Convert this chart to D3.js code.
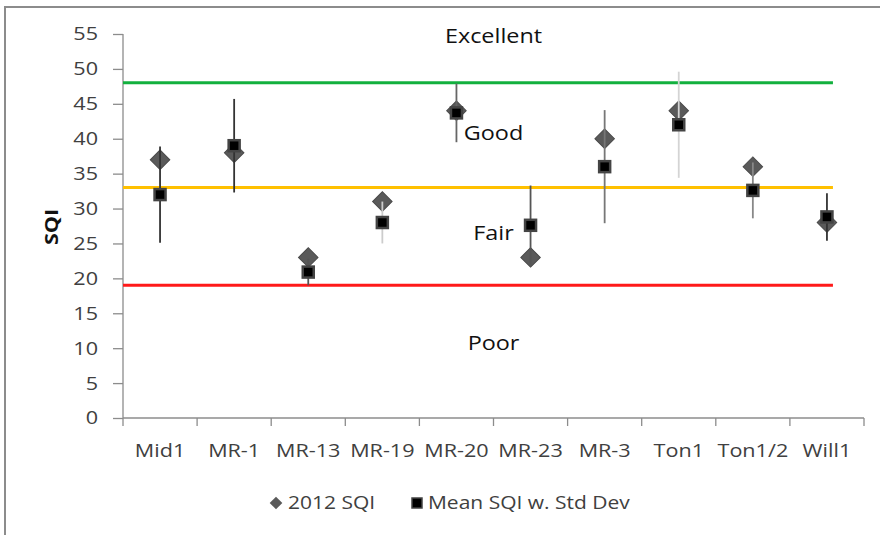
<!DOCTYPE html>
<html>
<head>
<meta charset="utf-8">
<script src="https://cdn.jsdelivr.net/npm/d3@7"></script>
<style>
  html, body { margin: 0; padding: 0; background: #fff; }
  svg { display: block; }
  text { font-family: "Open Sans", Lato, sans-serif; fill: #404040; }
</style>
</head>
<body>
<svg id="chart" width="880" height="535"></svg>
<script>
// Site names along the x axis
const sites = ["Mid1", "MR-1", "MR-13", "MR-19", "MR-20", "MR-23", "MR-3", "Ton1", "Ton1/2", "Will1"];
// 2012 SQI score per site
const sqi2012 = [37, 38, 23, 31, 44, 23, 40, 44, 36, 28];
// Mean SQI per site and its standard deviation
const meanSqi = [32, 39, 20.9, 28, 43.7, 27.6, 36, 42, 32.6, 28.8];
const stdDev = [6.9, 6.7, 1.9, 3, 4.2, 5.7, 8.1, 7.6, 4, 3.4];
// Rating thresholds and band labels
const thresholds = [
  { value: 48, color: "#12b03e" },
  { value: 33, color: "#ffc000" },
  { value: 19, color: "#ff1a1a" }
];
const bands = [
  { label: "Excellent", value: 53.7 },
  { label: "Good", value: 39.8 },
  { label: "Fair", value: 25.5 },
  { label: "Poor", value: 9.7 }
];
const yTicks = [0, 5, 10, 15, 20, 25, 30, 35, 40, 45, 50, 55];
// Error bar shade for each site
const errShade = ["#333", "#333", "#555", "#ccc", "#666", "#555", "#777", "#d4d4d4", "#888", "#333"];

// Text is drawn slightly widened, like a wide-set humanist face
const WIDE = 1.2;
function placeText(sel, px, py, rot) {
  sel.attr("transform", `translate(${px},${py})${rot ? ` rotate(${rot})` : ""} scale(${WIDE},1)`);
  return sel;
}

const svg = d3.select("#chart");

// Outer chart border (left and top edges)
svg.append("path")
  .attr("d", "M5,535 V7 H880")
  .attr("fill", "none")
  .attr("stroke", "#8c8c8c")
  .attr("stroke-width", 2);

const x = d3.scaleBand().domain(sites).range([123, 864]);
const cx = s => x(s) + x.bandwidth() / 2;
const y = d3.scaleLinear().domain([0, 55]).range([418, 34]);

// Y axis line and tick marks
const yAxis = svg.append("g").attr("transform", "translate(123,0)")
  .call(d3.axisLeft(y).tickValues(yTicks).tickSize(10).tickFormat(""));
yAxis.select(".domain").attr("stroke", "#8c8c8c").attr("stroke-width", 1.3).attr("d", `M0,${y(0)}V${y(55)}`);
yAxis.selectAll(".tick line").attr("stroke", "#8c8c8c").attr("stroke-width", 1.3);

// Y tick labels
svg.append("g").selectAll("text").data(yTicks).join("text")
  .attr("text-anchor", "end")
  .attr("dy", "0.36em")
  .attr("font-size", 18)
  .text(d => d)
  .each(function (d) { placeText(d3.select(this), 98, y(d)); });

// X axis with ticks on category boundaries
const xAxisG = svg.append("g").attr("transform", `translate(0,${y(0)})`);
xAxisG.append("line")
  .attr("x1", x.range()[0]).attr("x2", x.range()[1])
  .attr("stroke", "#8c8c8c").attr("stroke-width", 1.3);
const boundaries = sites.map(s => x(s)).concat([x.range()[1]]);
xAxisG.selectAll("line.tick").data(boundaries).join("line")
  .attr("class", "tick")
  .attr("x1", d => d).attr("x2", d => d)
  .attr("y1", 0).attr("y2", 8)
  .attr("stroke", "#8c8c8c").attr("stroke-width", 1.3);
xAxisG.selectAll("text").data(sites).join("text")
  .attr("text-anchor", "middle")
  .attr("font-size", 18)
  .text(d => d)
  .each(function (d) { placeText(d3.select(this), cx(d), 39); });

// Y axis title
placeText(svg.append("text"), 58, (y(0) + y(55)) / 2 + 1, -90)
  .attr("text-anchor", "middle")
  .attr("font-size", 18)
  .attr("font-weight", "bold")
  .style("fill", "#111")
  .text("SQI");

// Threshold lines
const lineEnd = cx(sites[sites.length - 1]) + 6;
svg.selectAll("line.threshold").data(thresholds).join("line")
  .attr("class", "threshold")
  .attr("x1", x.range()[0]).attr("x2", lineEnd)
  .attr("y1", d => y(d.value)).attr("y2", d => y(d.value))
  .attr("stroke", d => d.color).attr("stroke-width", 3);

// Band labels
svg.selectAll("text.band").data(bands).join("text")
  .attr("class", "band")
  .attr("text-anchor", "middle")
  .attr("font-size", 19.5)
  .style("fill", "#111")
  .text(d => d.label)
  .each(function (d) { placeText(d3.select(this), (cx("MR-20") + cx("MR-23")) / 2, y(d.value)); });

// Diamond marker: a square turned 45 degrees
const diamond = d3.symbol().type(d3.symbolSquare).size(190);

// 2012 SQI diamonds
svg.selectAll("path.sqi").data(sites).join("path")
  .attr("class", "sqi")
  .attr("transform", (s, i) => `translate(${cx(s)},${y(sqi2012[i])}) rotate(45)`)
  .attr("d", diamond)
  .attr("fill", "#5a5a5a")
  .attr("stroke", "#4a4a4a")
  .attr("stroke-width", 1);

// Standard deviation bars
svg.selectAll("line.err").data(sites).join("line")
  .attr("class", "err")
  .attr("x1", s => cx(s)).attr("x2", s => cx(s))
  .attr("y1", (s, i) => y(meanSqi[i] + stdDev[i]))
  .attr("y2", (s, i) => y(meanSqi[i] - stdDev[i]))
  .attr("stroke", (s, i) => errShade[i])
  .attr("stroke-width", 1.8);

// Mean SQI squares
svg.selectAll("rect.mean").data(sites).join("rect")
  .attr("class", "mean")
  .attr("x", s => cx(s) - 5.5)
  .attr("y", (s, i) => y(meanSqi[i]) - 5.5)
  .attr("width", 11).attr("height", 11)
  .attr("fill", "#000")
  .attr("stroke", "#444")
  .attr("stroke-width", 2.5);

// Legend
const legend = svg.append("g").attr("transform", "translate(0,503)");
legend.append("path")
  .attr("transform", "translate(276,0) rotate(45)")
  .attr("d", d3.symbol().type(d3.symbolSquare).size(80))
  .attr("fill", "#5a5a5a");
placeText(legend.append("text"), 288, 6).attr("font-size", 17.5).text("2012 SQI");
legend.append("rect")
  .attr("x", 412).attr("y", -5).attr("width", 10).attr("height", 10)
  .attr("fill", "#000").attr("stroke", "#444").attr("stroke-width", 1.5);
placeText(legend.append("text"), 428, 6).attr("font-size", 17.5).text("Mean SQI w. Std Dev");
</script>
</body>
</html>
